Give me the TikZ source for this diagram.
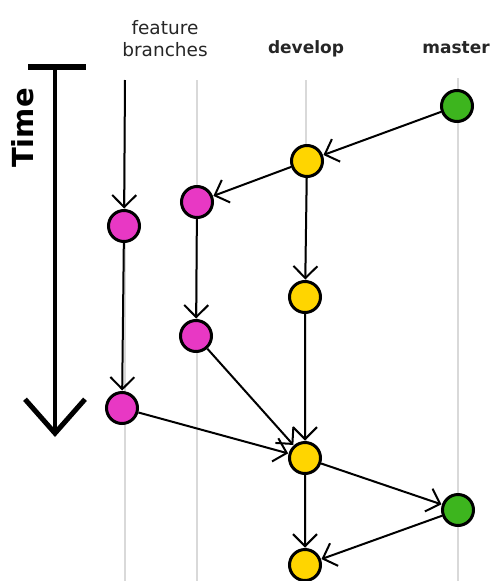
\documentclass[tikz,border=0pt]{standalone}
\usepackage{fontspec}
\setmainfont{DejaVu Sans}
\usetikzlibrary{arrows.meta}
\definecolor{fpink}{HTML}{E838C4}
\definecolor{dyellow}{HTML}{FFD500}
\definecolor{mgreen}{HTML}{3DB51E}
\begin{document}
\begin{tikzpicture}[x=1pt,y=-1pt,
  commit/.style={circle,draw=black,line width=3pt,minimum size=31pt,inner sep=0pt},
  lane/.style={draw=black!15,line width=2.5pt},
  flow/.style={draw,line width=2pt,-{Straight Barb[length=12pt,width=24pt,line width=2pt]},shorten >=0.5pt},
  lbl/.style={font=\fontsize{18.5}{22}\selectfont,align=center,inner sep=0pt,text=black!85},
  blbl/.style={font=\bfseries\fontsize{17}{20}\selectfont,inner sep=0pt,text=black!85}]
\useasboundingbox (0,0) rectangle (497,581);
% lanes
\coordinate (l1t) at (125,80); \coordinate (l1b) at (125,581);
\coordinate (l2t) at (197,80); \coordinate (l2b) at (197,581);
\coordinate (l3t) at (306,80); \coordinate (l3b) at (306,581);
\coordinate (l4t) at (458,78); \coordinate (l4b) at (458,581);
\draw[lane] (l1t) -- (l1b);
\draw[lane] (l2t) -- (l2b);
\draw[lane] (l3t) -- (l3b);
\draw[lane] (l4t) -- (l4b);
% labels
\node[lbl,anchor=north] (tfeat) at (165,20) {feature\\branches};
\node[blbl,anchor=base] (tdev) at (306,53) {develop};
\node[blbl,anchor=base] (tmas) at (456,53) {master};
% time
\coordinate (tbl) at (28,67); \coordinate (tbr) at (86,67);
\coordinate (ttop) at (55,67); \coordinate (tbot) at (55,437);
\draw[line width=6pt] (tbl) -- (tbr);
\draw[line width=4pt,-{Straight Barb[length=34pt,width=60pt,line width=5pt]}] (ttop) -- (tbot);
\node[rotate=90,font=\bfseries\fontsize{29}{29}\selectfont] (ttime) at (23,128) {Time};
% commits
\node[commit,fill=mgreen] (m1) at (457,106) {};
\node[commit,fill=dyellow] (d1) at (307,161) {};
\node[commit,fill=fpink] (fb1) at (197,202) {};
\node[commit,fill=fpink] (fa1) at (124,226) {};
\node[commit,fill=dyellow] (d2) at (305,297) {};
\node[commit,fill=fpink] (fb2) at (196,336) {};
\node[commit,fill=fpink] (fa2) at (122,408) {};
\node[commit,fill=dyellow] (d3) at (305,458) {};
\node[commit,fill=mgreen] (m2) at (458,510) {};
\node[commit,fill=dyellow] (d4) at (305,565) {};
\coordinate (fatop) at (125,80);
% connectors
\draw[flow] (m1) -- (d1);
\draw[flow] (d1) -- (fb1);
\draw[flow] (d1) -- (d2);
\draw[flow] (fatop) -- (fa1);
\draw[flow] (fa1) -- (fa2);
\draw[flow] (fb1) -- (fb2);
\draw[flow] (fb2) -- (d3);
\draw[flow] (fa2) -- (d3);
\draw[flow] (d2) -- (d3);
\draw[flow] (d3) -- (m2);
\draw[flow] (d3) -- (d4);
\draw[flow] (m2) -- (d4);
\end{tikzpicture}
\end{document}
